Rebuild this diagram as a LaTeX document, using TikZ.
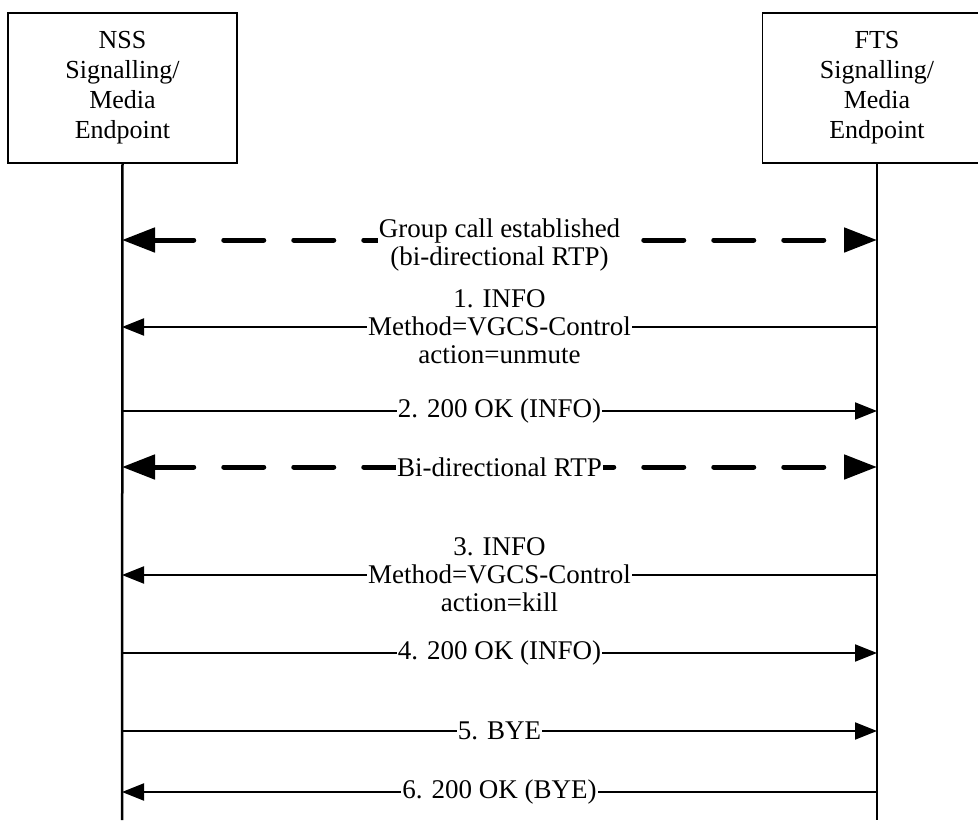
\documentclass[tikz,border=0pt]{standalone}
\usepackage{fontspec}
\setmainfont{Liberation Serif}
\usetikzlibrary{arrows.meta}

\tikzset{
  entity/.style={draw, line width=1.5pt, minimum width=229pt, minimum height=150pt,
    align=center, font=\fontsize{26}{30}\selectfont},
  lifeline/.style={line width=2.5pt},
  msg/.style={line width=2pt, -{Triangle[length=22pt,width=17pt]}},
  rtp/.style={line width=5pt, line cap=round, dash pattern=on 40pt off 30pt,
    {Triangle[length=33pt,width=24pt]}-{Triangle[length=33pt,width=24pt]}},
  msglabel/.style={fill=white, inner sep=1pt, align=center,
    font=\fontsize{27}{28}\selectfont}
}

\begin{document}
\begin{tikzpicture}[x=1pt,y=-1pt]
\useasboundingbox (0,0) rectangle (978,820);
\node[entity] (nss) at (122.5,88) {NSS\\Signalling/\\Media\\Endpoint};
\node[entity] (fts) at (877,88) {FTS\\Signalling/\\Media\\Endpoint};
\coordinate (nssend) at (122,820);
\coordinate (ftsend) at (877,820);
\draw[lifeline] (nss.south) -- (nssend);
\draw[lifeline] (fts.south) -- (ftsend);
% message rows on the two lifelines
\foreach \name/\y in {rtpa/240, info1/327, ok1/411, rtpb/467, info2/575, ok2/653, bye/731, ok3/792} {
  \coordinate (n-\name) at (122,\y);
  \coordinate (f-\name) at (877,\y);
}
\draw[rtp] (n-rtpa) -- (f-rtpa);
\path (n-rtpa) -- node[msglabel, yshift=-5pt] (t-rtpa) {Group call established\\(bi-directional RTP)} (f-rtpa);
\draw[msg] (f-info1) -- node[msglabel] (t-info1) {1. INFO\\Method=VGCS-Control\\action=unmute} (n-info1);
\draw[msg] (n-ok1) -- node[msglabel] (t-ok1) {2. 200 OK (INFO)} (f-ok1);
\draw[rtp] (n-rtpb) -- (f-rtpb);
\path (n-rtpb) -- node[msglabel] (t-rtpb) {Bi-directional RTP} (f-rtpb);
\draw[msg] (f-info2) -- node[msglabel] (t-info2) {3. INFO\\Method=VGCS-Control\\action=kill} (n-info2);
\draw[msg] (n-ok2) -- node[msglabel] (t-ok2) {4. 200 OK (INFO)} (f-ok2);
\draw[msg] (n-bye) -- node[msglabel] (t-bye) {5. BYE} (f-bye);
\draw[msg] (f-ok3) -- node[msglabel] (t-ok3) {6. 200 OK (BYE)} (n-ok3);
\end{tikzpicture}
\end{document}
